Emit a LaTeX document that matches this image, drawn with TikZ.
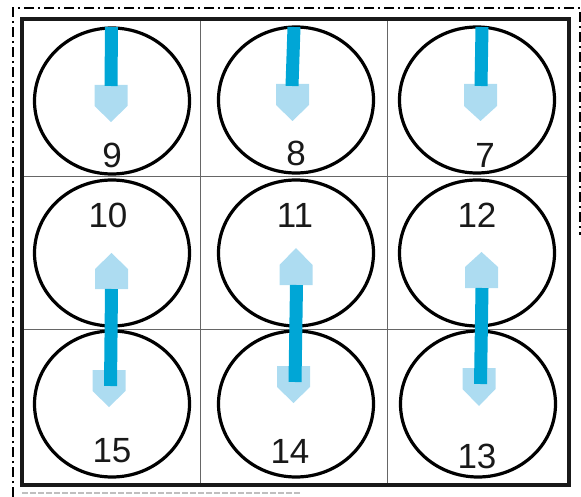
\documentclass[tikz,border=0pt]{standalone}
\usepackage{fontspec}
\setmainfont{Liberation Sans}
\usetikzlibrary{shapes.geometric}
\definecolor{shaftblue}{RGB}{0,166,214}
\definecolor{headblue}{RGB}{173,220,241}
\newcommand\dnhead[4]{\fill[headblue] (#1-16.5,#2) -- (#1+16.5,#2) -- (#1+16.5,#3) -- (#1,#4) -- (#1-16.5,#3) -- cycle;}
\newcommand\uphead[4]{\fill[headblue] (#1-16.5,#2) -- (#1+16.5,#2) -- (#1+16.5,#3) -- (#1,#4) -- (#1-16.5,#3) -- cycle;}
\begin{document}
\begin{tikzpicture}[x=1pt,y=-1pt,
  cell/.style={draw, ellipse, line width=3.2pt, minimum width=155pt, minimum height=146pt, inner sep=0pt},
  num/.style={font=\fontsize{35}{35}\selectfont, anchor=base, inner sep=0pt, text=black!90},
  shaft/.style={draw=shaftblue, line width=13pt},
  grid/.style={line width=1pt, black!60},
  frame/.style={line width=4.5pt, black!90},
  outer/.style={line width=1.8pt, dash pattern=on 10pt off 4pt on 2pt off 4pt}]
\useasboundingbox (0,0) rectangle (581,497);
% outer dash-dot border
\coordinate (o1) at (13,497);
\coordinate (o2) at (13,8);
\coordinate (o3) at (580,8);
\coordinate (o4) at (580,235);
\draw[outer] (o1) -- (o2) -- (o3) -- (o4);
\coordinate (b1) at (22,493);
\coordinate (b2) at (300,493);
\draw[black!25, line width=1.5pt, dash pattern=on 6pt off 2pt] (b1) -- (b2);
% grid
\coordinate (g1) at (200,19);
\coordinate (g2) at (200,485);
\coordinate (g3) at (387,19);
\coordinate (g4) at (387,485);
\coordinate (g5) at (22,177);
\coordinate (g6) at (569,177);
\coordinate (g7) at (22,329);
\coordinate (g8) at (569,329);
\draw[grid] (g1) -- (g2);
\draw[grid] (g3) -- (g4);
\draw[grid] (g5) -- (g6);
\draw[grid] (g7) -- (g8);
% circles
\node[cell] (c9)  at (112,101) {};
\node[cell] (c8)  at (296,100) {};
\node[cell] (c7)  at (477,100) {};
\node[cell] (c10) at (112,253) {};
\node[cell] (c11) at (296,253) {};
\node[cell] (c12) at (477,253) {};
\node[cell] (c15) at (112,404) {};
\node[cell] (c14) at (296,404) {};
\node[cell] (c13) at (478,404) {};
% main frame
\coordinate (f1) at (22,19);
\coordinate (f2) at (569,485);
\draw[frame] (f1) rectangle (f2);
% top row arrows (down)
\dnhead{111}{85}{106}{122}
\dnhead{292.5}{84}{105}{121}
\dnhead{480.5}{84}{106}{121}
\coordinate (s1a) at (111.5,27);
\coordinate (s1b) at (111,86);
\coordinate (s2a) at (294,27);
\coordinate (s2b) at (292,86);
\coordinate (s3a) at (482,27);
\coordinate (s3b) at (481,86);
\draw[shaft] (s1a) -- (s1b);
\draw[shaft] (s2a) -- (s2b);
\draw[shaft] (s3a) -- (s3b);
% middle/bottom arrows
\uphead{111.5}{289}{269}{253}
\uphead{296}{285}{265}{248}
\uphead{481.5}{288}{267}{252}
\dnhead{109}{370}{391}{407}
\dnhead{293.5}{366}{387}{403}
\dnhead{479}{368}{389}{406}
\coordinate (t1a) at (111.5,289);
\coordinate (t1b) at (110.5,386);
\coordinate (t2a) at (296.5,285);
\coordinate (t2b) at (295,382);
\coordinate (t3a) at (482,288);
\coordinate (t3b) at (480.5,384);
\draw[shaft] (t1a) -- (t1b);
\draw[shaft] (t2a) -- (t2b);
\draw[shaft] (t3a) -- (t3b);
% labels
\node[num] (n9)  at (112,168) {9};
\node[num] (n8)  at (296,166) {8};
\node[num] (n7)  at (485,168) {7};
\node[num] (n10) at (108,228) {10};
\node[num] (n11) at (295,228) {11};
\node[num] (n12) at (477,228) {12};
\node[num] (n15) at (112,462) {15};
\node[num] (n14) at (290,463) {14};
\node[num] (n13) at (477,468) {13};
\end{tikzpicture}
\end{document}
